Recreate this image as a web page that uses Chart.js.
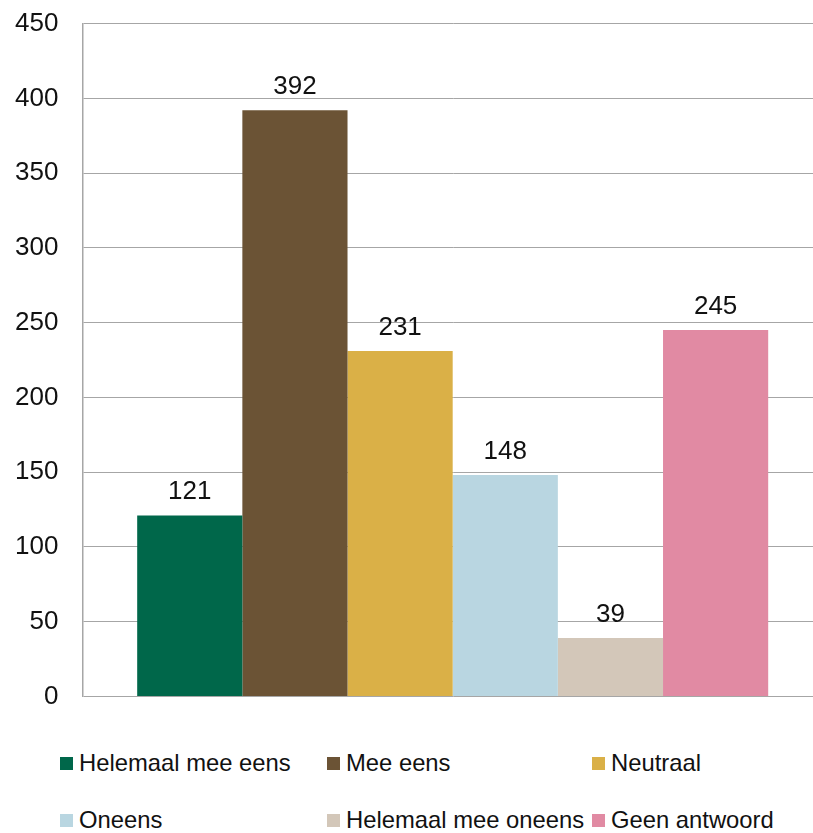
<!DOCTYPE html>
<html>
<head>
<meta charset="utf-8">
<script src="https://cdn.jsdelivr.net/npm/chart.js@4"></script>
<style>
  html, body { margin: 0; padding: 0; background: #fff; overflow: hidden; }
  .wrap { position: relative; width: 813px; height: 833px; overflow: hidden; }
  #answersChart { position: absolute; left: -9px; top: -16px; }
  .legend { position: absolute; left: 60px; top: 751px; display: grid;
    grid-template-columns: 267px 265px 220px; row-gap: 33px;
    font-family: "Liberation Sans", Arial, sans-serif; font-size: 23.8px; color: #111; }
  .legend div { display: flex; align-items: center; height: 24px; white-space: nowrap; }
  .legend span { display: inline-block; width: 13px; height: 13px; margin-right: 6px; }
</style>
</head>
<body>
<div class="wrap">
  <canvas id="answersChart" width="832" height="752"></canvas>
  <div class="legend" id="legend"></div>
</div>
<script>
const answers = ["Helemaal mee eens", "Mee eens", "Neutraal", "Oneens", "Helemaal mee oneens", "Geen antwoord"];
const counts = [121, 392, 231, 148, 39, 245];
const colors = ["#00674a", "#6b5335", "#dab047", "#b9d6e1", "#d3c7b9", "#e18aa3"];
const yTicks = [0, 50, 100, 150, 200, 250, 300, 350, 400, 450];

// value labels above the bars
const valueLabels = {
  id: "valueLabels",
  afterDatasetsDraw(chart) {
    const ctx = chart.ctx;
    ctx.save();
    ctx.font = "26px 'Liberation Sans', Arial, sans-serif";
    ctx.fillStyle = "#111";
    ctx.textAlign = "center";
    ctx.textBaseline = "alphabetic";
    chart.data.datasets.forEach((ds, i) => {
      const bar = chart.getDatasetMeta(i).data[0];
      ctx.fillText(ds.data[0], bar.x, bar.y - 16);
    });
    ctx.restore();
  }
};

const ctxAnswers = document.getElementById("answersChart").getContext("2d");
new Chart(ctxAnswers, {
  type: "bar",
  data: {
    labels: [""],
    datasets: answers.map((a, i) => ({
      label: a,
      data: [counts[i]],
      backgroundColor: colors[i]
    }))
  },
  options: {
    responsive: false,
    animation: false,
    layout: { padding: { top: 8, bottom: 10, left: 0, right: 0 } },
    datasets: { bar: { categoryPercentage: 0.852, barPercentage: 1 } },
    plugins: { legend: { display: false }, tooltip: { enabled: false } },
    scales: {
      x: { display: false },
      y: {
        min: 0,
        max: 450,
        afterBuildTicks: axis => { axis.ticks = yTicks.map(v => ({ value: v })); },
        grid: { color: "#a6a6a6", lineWidth: 1, drawTicks: false },
        border: { color: "#a6a6a6", width: 1.5 },
        ticks: {
          padding: 24,
          color: "#111",
          font: { family: "'Liberation Sans', Arial, sans-serif", size: 26 }
        }
      }
    }
  },
  plugins: [valueLabels]
});

// legend in three columns
const legend = document.getElementById("legend");
answers.forEach((a, i) => {
  const item = document.createElement("div");
  item.innerHTML = `<span style="background:${colors[i]}"></span>${a}`;
  legend.appendChild(item);
});
</script>
</body>
</html>
